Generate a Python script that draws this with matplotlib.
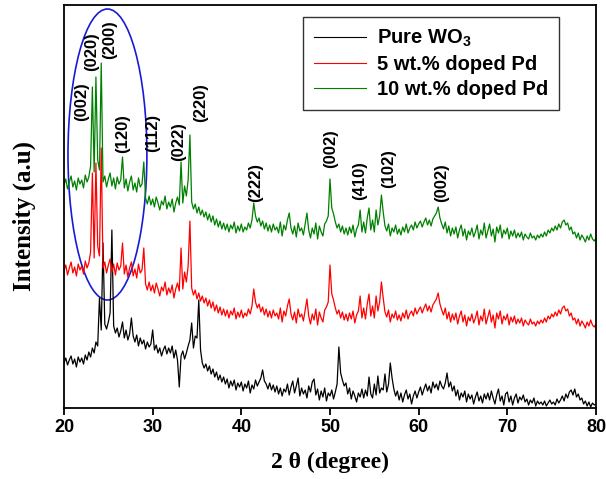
import matplotlib
matplotlib.use("Agg")
import matplotlib.pyplot as plt
from matplotlib.patches import Ellipse
import numpy as np

plt.rcParams['font.family'] = ['Liberation Sans', 'DejaVu Sans']
plt.rcParams['mathtext.fontset'] = 'custom'
plt.rcParams['mathtext.rm'] = 'Liberation Sans:bold'
plt.rcParams['mathtext.default'] = 'rm'

# 2theta grid, 20..80 in 0.2 deg steps
two_theta = np.round(np.arange(20.0, 80.0001, 0.2), 1)

# intensities (arbitrary units, stacked as in the figure)
green_10pd = [
    223, 229, 219, 226, 232, 221, 227, 218, 230, 224,
    228, 220, 233, 226, 231, 242, 321, 236, 331, 248,
    238, 345, 226, 232, 221, 229, 235, 222, 230, 219,
    231, 224, 228, 251, 220, 229, 217, 226, 232, 218,
    225, 216, 230, 221, 224, 246, 210, 204, 212, 203,
    209, 201, 211, 205, 198, 207, 203, 212, 199, 206,
    201, 209, 196, 205, 211, 203, 246, 205, 222, 212,
    228, 273, 206, 199, 204, 195, 201, 193, 198, 191,
    196, 188, 194, 186, 192, 183, 189, 181, 187, 179,
    185, 178, 184, 176, 183, 179, 186, 175, 182, 177,
    184, 176, 181, 178, 185, 180, 188, 205, 192, 186,
    190, 182, 187, 179, 185, 177, 183, 176, 184, 178,
    181, 175, 186, 172, 183, 178, 188, 195, 180, 174,
    182, 171, 185, 177, 180, 173, 184, 195, 178, 170,
    180, 174, 185, 169, 182, 176, 172, 184, 187, 192,
    229, 200, 194, 186, 180, 184, 176, 182, 174, 180,
    173, 181, 175, 183, 171, 179, 183, 198, 176, 186,
    175, 190, 200, 178, 188, 176, 198, 183, 192, 213,
    196, 182, 177, 184, 172, 180, 176, 183, 174, 179,
    173, 181, 176, 184, 175, 180, 183, 178, 186, 180,
    184, 187, 181, 186, 190, 183, 188, 182, 189, 192,
    195, 201, 190, 184, 179, 186, 175, 182, 172, 180,
    174, 181, 170, 178, 183, 172, 179, 168, 177, 173,
    180, 171, 176, 183, 169, 178, 173, 185, 170, 177,
    184, 172, 179, 166, 181, 175, 183, 170, 178, 174,
    180, 169, 177, 172, 178, 170, 175, 171, 176, 168,
    174, 171, 169, 175, 170, 172, 168, 173, 170, 174,
    171, 176, 172, 178, 175, 180, 177, 182, 178, 184,
    180, 186, 188, 183, 185, 178, 181, 174, 176, 170,
    175, 168, 173, 170, 166, 172, 168, 174, 169, 167,
    170,
]

red_5pd = [
    137, 143, 133, 140, 146, 135, 141, 132, 144, 138,
    142, 134, 147, 140, 145, 156, 235, 150, 245, 162,
    152, 260, 140, 146, 135, 143, 149, 136, 144, 133,
    145, 138, 142, 165, 134, 143, 131, 140, 146, 132,
    139, 130, 144, 135, 138, 160, 124, 118, 126, 117,
    123, 115, 125, 119, 112, 121, 117, 126, 113, 120,
    115, 123, 110, 119, 125, 117, 160, 119, 136, 126,
    142, 187, 120, 113, 118, 109, 115, 107, 112, 105,
    110, 102, 108, 100, 106, 97, 103, 95, 101, 93,
    99, 92, 98, 90, 97, 93, 100, 89, 96, 91,
    98, 90, 95, 92, 99, 94, 102, 119, 106, 100,
    104, 96, 101, 93, 99, 91, 97, 90, 98, 92,
    95, 89, 100, 86, 97, 92, 102, 109, 94, 88,
    96, 85, 99, 91, 94, 87, 98, 109, 92, 84,
    94, 88, 99, 83, 96, 90, 86, 98, 101, 106,
    143, 114, 108, 100, 94, 98, 90, 96, 88, 94,
    87, 95, 89, 97, 85, 93, 97, 112, 90, 100,
    89, 104, 114, 92, 102, 90, 112, 97, 106, 126,
    110, 96, 91, 98, 86, 94, 90, 97, 88, 93,
    87, 95, 90, 98, 89, 94, 97, 92, 100, 94,
    98, 101, 95, 100, 104, 97, 102, 96, 103, 106,
    109, 115, 104, 98, 93, 100, 89, 96, 86, 94,
    88, 95, 84, 92, 97, 86, 93, 82, 91, 87,
    94, 85, 90, 97, 83, 92, 87, 99, 84, 91,
    98, 86, 93, 80, 95, 89, 97, 84, 92, 88,
    94, 83, 91, 86, 92, 84, 89, 85, 90, 82,
    88, 85, 83, 89, 84, 86, 82, 87, 84, 88,
    85, 90, 86, 92, 89, 94, 91, 96, 92, 98,
    94, 100, 102, 97, 99, 92, 95, 88, 90, 84,
    89, 82, 87, 84, 80, 86, 82, 88, 83, 81,
    84,
]

black_pure = [
    45, 50, 43, 48, 52, 44, 49, 41, 51, 46,
    50, 44, 53, 48, 56, 51, 60, 55, 66, 62,
    110, 78, 165, 84, 79, 86, 95, 178, 82, 75,
    80, 71, 77, 86, 70, 78, 68, 74, 90, 72,
    66, 73, 62, 70, 64, 68, 59, 66, 61, 64,
    78, 58, 63, 55, 60, 52, 58, 62, 54, 60,
    55, 62, 50, 58, 48, 21, 52, 57, 49, 55,
    62, 68, 85, 60, 72, 70, 108, 58, 45, 40,
    44, 37, 42, 34, 39, 31, 36, 28, 33, 26,
    31, 24, 29, 20, 27, 22, 28, 18, 25, 21,
    26, 17, 24, 20, 27, 15, 23, 19, 28, 22,
    26, 30, 38, 27, 24, 19, 25, 18, 23, 16,
    22, 14, 20, 12, 19, 16, 24, 13, 21, 27,
    15, 22, 30, 12, 20, 14, 18, 10, 22, 16,
    26, 29, 13, 19, 8, 17, 11, 20, 7, 15,
    12, 18, 9, 16, 24, 61, 35, 28, 22, 25,
    14, 20, 9, 17, 12, 6, 15, 11, 19, 10,
    18, 12, 31, 14, 10, 24, 13, 32, 15, 20,
    18, 34, 16, 24, 45, 30, 19, 12, 17, 8,
    15, 6, 13, 18, 9, 14, 4, 12, 17, 10,
    16, 21, 13, 19, 24, 17, 22, 15, 26, 20,
    24, 18, 27, 22, 19, 25, 35, 21, 26, 17,
    22, 12, 18, 8, 15, 11, 17, 6, 14, 9,
    13, 4, 11, 16, 7, 12, 5, 14, 9, 15,
    8, 17, 10, 4, 13, 19, 7, 12, 3, 14,
    16, 6, 12, 3, 10, 14, 5, 11, 8, 13,
    6, 9, 3, 8, 5, 10, 2, 7, 4, 6,
    3, 7, 2, 5, 8, 4, 6, 3, 9, 5,
    8, 12, 7, 14, 10, 16, 18, 13, 19, 11,
    14, 8, 10, 4, 7, 2, 6, 1, 5, 3,
    4,
]

series_labels = ['Pure WO$_3$', '5 wt.% doped Pd', '10 wt.% doped Pd']
series_colors = ['black', 'red', 'green']

peak_labels = ['(002)', '(020)', '(200)', '(120)', '(112)', '(022)', '(220)',
               '(222)', '(002)', '(410)', '(102)', '(002)']
peak_label_x = [22.03, 23.16, 25.19, 26.65, 30.03, 32.96, 35.45,
                41.65, 50.1, 53.37, 56.64, 62.62]
peak_label_y = [306, 356, 368, 274, 275, 266, 305,
                225, 259, 227, 239, 225]

x_ticks = [20, 30, 40, 50, 60, 70, 80]

W, H = 606, 479
fig = plt.figure(figsize=(W / 100, H / 100), dpi=100)
ax = fig.add_axes([64 / W, (H - 408) / H, 532 / W, 403 / H])

for ys, lab, col in zip([black_pure, red_5pd, green_10pd], series_labels, series_colors):
    ax.plot(two_theta, ys, color=col, lw=0.9, label=lab)

for lab, lx, ly in zip(peak_labels, peak_label_x, peak_label_y):
    ax.text(lx, ly, lab, rotation=90, ha='center', va='center',
            fontsize=12, fontweight='bold', color='black')

ax.add_patch(Ellipse((24.9, 253.5), 8.9, 291, fill=False,
                     edgecolor='#1a1ad6', lw=1.2))

ax.set_xlim(20, 80)
ax.set_ylim(0, 403)
ax.set_xticks(x_ticks)
ax.set_xticklabels([str(t) for t in x_ticks], fontsize=13, fontweight='bold')
ax.set_yticks([])
ax.tick_params(axis='x', direction='out', length=5, width=1.3, pad=3)
for s in ax.spines.values():
    s.set_linewidth(1.3)

ax.set_xlabel('2 θ (degree)', family=['Liberation Serif', 'DejaVu Serif'],
              fontsize=17, fontweight='bold')
ax.xaxis.set_label_coords(0.5, -0.108)
ax.set_ylabel('Intensity (a.u)', family=['Liberation Serif', 'DejaVu Serif'],
              fontsize=18, fontweight='bold')
ax.yaxis.set_label_coords(-0.052, 0.476)

leg = fig.legend(loc='upper left', bbox_to_anchor=(303 / W, 1 - 17 / H),
                 frameon=True, fancybox=False, edgecolor='black',
                 prop={'weight': 'bold', 'size': 14.5}, handlelength=2.6,
                 handletextpad=0.5, labelspacing=0.28, borderpad=0.55,
                 borderaxespad=0)
leg.get_frame().set_linewidth(1.0)
for l in leg.get_lines():
    l.set_linewidth(0.8)

fig.savefig('out.png', dpi=100)
